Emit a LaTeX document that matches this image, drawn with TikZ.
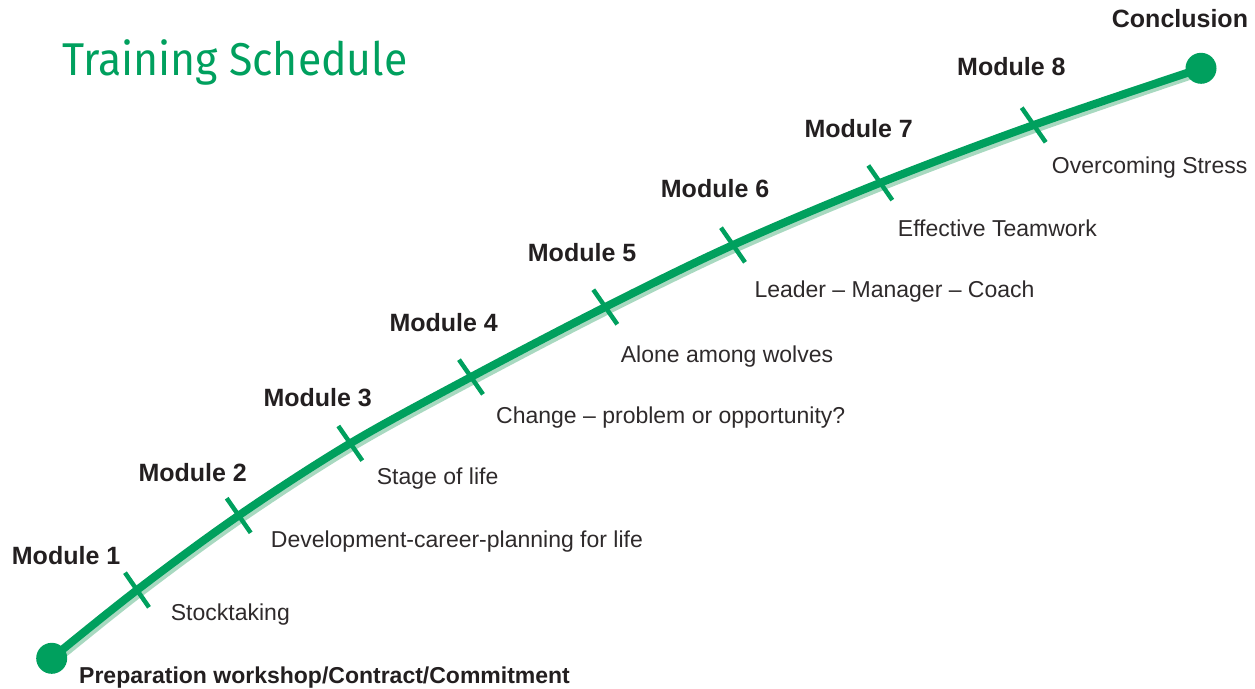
\documentclass[tikz,border=0pt]{standalone}
\usepackage{fontspec}
\setmainfont{Liberation Sans}
\newfontfamily\titlefont{Fira Sans}
\usetikzlibrary{calc}
\definecolor{tgreen}{HTML}{00A05E}
\definecolor{tshadow}{HTML}{A8D9C0}
\definecolor{ttext}{HTML}{231F20}
\definecolor{tdesc}{HTML}{2E2A2B}
\begin{document}
\begin{tikzpicture}[x=1pt,y=-1pt,
  modlabel/.style={anchor=base west,inner sep=0pt,text=ttext,font=\fontsize{25}{30}\selectfont\bfseries},
  desclabel/.style={anchor=base west,inner sep=0pt,text=tdesc,font=\fontsize{23}{28}\selectfont},
  tickmark/.style={draw=tgreen,line width=4.5pt},
  mainline/.style={draw=tgreen,line width=8pt},
  shadowline/.style={draw=tshadow,line width=8pt},
  enddot/.style={circle,fill=tgreen,minimum size=31pt,inner sep=0pt}
]
\useasboundingbox (0,0) rectangle (1255,688);
% points on the path
\coordinate (s)  at (51.7,658.3);
\coordinate (t1) at (137,590);
\coordinate (t2) at (238.7,515.5);
\coordinate (t3) at (350.3,443.3);
\coordinate (t4) at (471,377);
\coordinate (t5) at (605.3,307);
\coordinate (t6) at (733,245);
\coordinate (t7) at (880.3,182.8);
\coordinate (t8) at (1033.7,125);
\coordinate (e)  at (1201,68.3);
% shadow
\begin{scope}[shift={(2,3.6)}]
\draw[shadowline] plot[smooth,tension=0.55] coordinates {(51.7,658.3) (137,590) (238.7,515.5) (350.3,443.3) (471,377) (605.3,307) (733,245) (880.3,182.8) (1033.7,125) (1190,71.5)};
\end{scope}
% main line
\draw[mainline] plot[smooth,tension=0.55] coordinates {(51.7,658.3) (137,590) (238.7,515.5) (350.3,443.3) (471,377) (605.3,307) (733,245) (880.3,182.8) (1033.7,125) (1201,68.3)};
% ticks
\foreach \t in {t1,t2,t3,t4,t5,t6,t7,t8}{
  \draw[tickmark] ($(\t)+(-12,-17.3)$) -- ($(\t)+(12,17.3)$);
}
% dots
\node[enddot] (start) at (s) {};
\node[enddot] (finish) at (e) {};
% title
\node[anchor=base west,inner sep=0pt,text=tgreen,font=\titlefont\fontsize{46}{56}\selectfont] (title) at (62,75.7) {\scalebox{0.93}[1]{Training Schedule}};
% module labels
\node[modlabel] (m1) at (11.7,564.3) {Module 1};
\node[modlabel] (m2) at (138.3,481.7) {Module 2};
\node[modlabel] (m3) at (263.3,406) {Module 3};
\node[modlabel] (m4) at (389.3,331) {Module 4};
\node[modlabel] (m5) at (527.7,261) {Module 5};
\node[modlabel] (m6) at (660.7,197.7) {Module 6};
\node[modlabel] (m7) at (804.3,137.3) {Module 7};
\node[modlabel] (m8) at (957,75) {Module 8};
\node[modlabel] (concl) at (1111.7,27.3) {Conclusion};
\node[anchor=base west,inner sep=0pt,text=ttext,font=\fontsize{23}{28}\selectfont\bfseries] (prep) at (79,683.5) {Preparation workshop/Contract/Commitment};
% descriptions
\node[desclabel] (d1) at (170.7,620) {Stocktaking};
\node[desclabel] (d2) at (270.7,547.7) {Development-career-planning for life};
\node[desclabel] (d3) at (376.7,484.3) {Stage of life};
\node[desclabel] (d4) at (496,423.3) {Change – problem or opportunity?};
\node[desclabel] (d5) at (620.7,362.7) {Alone among wolves};
\node[desclabel] (d6) at (754.3,297.7) {Leader – Manager – Coach};
\node[desclabel] (d7) at (897.7,236) {Effective Teamwork};
\node[desclabel] (d8) at (1051.7,173.3) {Overcoming Stress};
\end{tikzpicture}
\end{document}
